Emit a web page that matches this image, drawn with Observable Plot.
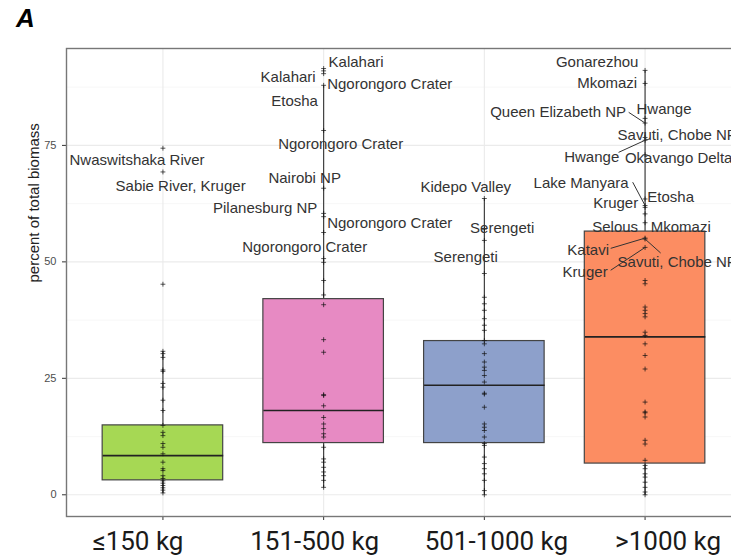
<!DOCTYPE html>
<html>
<head>
<meta charset="utf-8">
<script src="https://cdn.jsdelivr.net/npm/d3@7"></script>
<script src="https://cdn.jsdelivr.net/npm/@observablehq/plot@0.6"></script>
<style>
  html, body { margin: 0; padding: 0; background: #fff; }
  #wrap { position: relative; width: 731px; height: 555px; overflow: hidden; }
  #panelTag { position: absolute; left: 16px; top: 3px; font: italic bold 26px "Liberation Sans", Arial, sans-serif; color: #000; }
</style>
</head>
<body>
<div id="wrap"><div id="panelTag">A</div></div>
<script>
// ---- Data ----
const categories = ["≤150 kg", "151-500 kg", "501-1000 kg", ">1000 kg"];
const boxColors = ["#a6d854", "#e78ac3", "#8da0cb", "#fc8d62"];

// box statistics per category
const q1 = [3.1, 11.1, 11.1, 6.7];
const median = [8.4, 18.1, 23.5, 33.9];
const q3 = [14.9, 42.0, 33.0, 56.5];
const whiskerLow = [0.4, 1.6, 0.0, 0.0];
const whiskerHigh = [30.8, 87.9, 63.6, 91.1];

// unlabeled site values per category (percent of total biomass)
const g1Values = [45.2, 30.8, 30.3, 29.5, 26.8, 26.5, 23.9, 23.1, 20.3, 18.1, 14.9, 13.4, 12.7, 11.0, 10.2, 8.8, 7.0, 5.6, 5.2, 4.1, 3.5, 3.0, 2.5, 2.0, 1.5, 1.0, 0.4];
const g2Values = [50.7, 49.9, 46.0, 42.9, 40.8, 33.3, 30.6, 21.5, 21.3, 19.1, 16.6, 15.2, 14.2, 13.1, 12.4, 10.2, 7.7, 7.0, 5.9, 4.9, 4.1, 3.1, 1.6];
const g3Values = [47.5, 42.4, 41.0, 39.6, 37.8, 36.4, 35.3, 33.1, 32.4, 30.3, 28.5, 27.4, 26.7, 25.6, 24.2, 21.8, 21.6, 18.8, 15.2, 14.5, 13.8, 12.4, 11.0, 10.6, 8.1, 6.7, 5.6, 4.5, 3.1, 0.9, 0.0];
const g4Values = [46.0, 45.3, 40.3, 39.6, 38.9, 38.2, 34.9, 34.2, 32.4, 29.9, 27.0, 19.9, 17.8, 17.6, 16.7, 11.7, 10.9, 7.4, 6.3, 5.6, 4.5, 3.8, 2.7, 1.6, 0.6, 0.0];

// labeled sites
const siteNames = ["Nwaswitshaka River", "Sabie River, Kruger",
  "Kalahari", "Kalahari", "Ngorongoro Crater", "Etosha", "Ngorongoro Crater", "Nairobi NP", "Pilanesburg NP", "Ngorongoro Crater", "Ngorongoro Crater",
  "Kidepo Valley", "Serengeti", "Serengeti",
  "Gonarezhou", "Mkomazi", "Queen Elizabeth NP", "Hwange", "Savuti, Chobe NP", "Hwange", "Okavango Delta", "Lake Manyara", "Etosha", "Kruger", "Selous", "Mkomazi", "Katavi", "Savuti, Chobe NP", "Kruger"];
const siteGroups = [1, 1, 2, 2, 2, 2, 2, 2, 2, 2, 2, 3, 3, 3, 4, 4, 4, 4, 4, 4, 4, 4, 4, 4, 4, 4, 4, 4, 4];
const siteValues = [74.4, 69.3, 91.5, 91.0, 90.4, 87.9, 78.2, 65.8, 60.4, 59.7, 56.3, 63.6, 57.0, 54.6,
  91.1, 88.3, 79.8, 80.8, 76.7, 76.1, 73.0, 62.1, 63.5, 61.7, 60.3, 58.4, 55.1, 54.9, 53.1];

// repelled label placement (data units: category axis, percent axis)
const labelX = [0.839, 1.110, 2.202, 1.779, 2.411, 1.819, 2.106, 1.882, 1.636, 2.411, 1.882, 2.884, 3.111, 2.884,
  3.702, 3.764, 3.459, 4.118, 4.200, 3.668, 4.209, 3.602, 4.159, 3.817, 3.814, 4.222, 3.646, 4.200, 3.627];
const labelY = [71.8, 66.2, 92.8, 89.6, 88.1, 84.4, 75.2, 67.9, 61.5, 58.3, 53.2, 66.0, 57.2, 50.9,
  92.8, 88.3, 82.1, 82.7, 77.2, 72.4, 72.2, 66.9, 63.9, 62.6, 57.4, 57.4, 52.5, 50.0, 47.8];
// connector segment ends (null = no segment drawn)
const segX = [null, null, null, null, null, null, null, null, null, null, null, null, null, null,
  null, null, 3.898, null, null, 3.835, null, 3.923, null, null, null, null, 3.786, 4.097, 3.786];
const segY = [null, null, null, null, null, null, null, null, null, null, null, null, null, null,
  null, null, 82.1, null, null, 73.5, null, 67.1, null, null, null, null, 52.9, 51.9, 48.2];

const yMajor = [0, 25, 50, 75];
const yMinor = [12.5, 37.5, 62.5, 87.5];
const xLabelShift = [-25, -9, 12, 23];

// ---- Build tables ----
const groups = categories.map((c, i) => ({
  g: i + 1, cat: c, fill: boxColors[i],
  q1: q1[i], med: median[i], q3: q3[i], lo: whiskerLow[i], hi: whiskerHigh[i]
}));
const sites = siteNames.map((n, i) => ({
  name: n, g: siteGroups[i], v: siteValues[i], lx: labelX[i], ly: labelY[i], sx: segX[i], sy: segY[i]
}));
const points = [
  ...[g1Values, g2Values, g3Values, g4Values].flatMap((arr, i) => arr.map(v => ({g: i + 1, v}))),
  ...sites.map(s => ({g: s.g, v: s.v}))
];
const segs = sites.filter(s => s.sx != null);
const halfBox = 0.375;
const LAB_FONT = "'Liberation Sans', Arial, sans-serif";

const labelMarks = categories.map((c, i) =>
  Plot.text([c], {
    x: i + 1, text: d => d, frameAnchor: "bottom", lineAnchor: "top",
    dy: 15, dx: xLabelShift[i], fontSize: 26, fontFamily: "Roboto", fill: "#1a1a1a"
  })
);

const chart = Plot.plot({
  width: 731, height: 555,
  marginTop: 48, marginBottom: 39, marginLeft: 66, marginRight: -10,
  style: {fontFamily: LAB_FONT, background: "white"},
  x: {type: "linear", domain: [0.4, 4.6], axis: null},
  y: {domain: [-4.66, 95.8], axis: null},
  marks: [
    Plot.gridY(yMinor, {stroke: "#f3f3f3", strokeOpacity: 1, strokeWidth: 0.7}),
    Plot.gridY(yMajor, {stroke: "#ebebeb", strokeOpacity: 1, strokeWidth: 1.1}),
    Plot.gridX(groups.map(d => d.g), {stroke: "#ebebeb", strokeOpacity: 1, strokeWidth: 1.1}),
    Plot.axisY(yMajor, {tickSize: 4, tickPadding: 6, fontSize: 11, fontFamily: LAB_FONT, fill: "#4d4d4d", stroke: "#333", label: null}),
    Plot.axisX(groups.map(d => d.g), {tickSize: 4, tickFormat: () => "", stroke: "#333", label: null}),
    // whiskers
    Plot.link(groups, {x1: "g", x2: "g", y1: "lo", y2: "q1", stroke: "#333", strokeWidth: 1.1}),
    Plot.link(groups, {x1: "g", x2: "g", y1: "q3", y2: "hi", stroke: "#333", strokeWidth: 1.1}),
    // boxes
    Plot.rect(groups, {x1: d => d.g - halfBox, x2: d => d.g + halfBox, y1: "q1", y2: "q3", fill: "fill", stroke: "#444", strokeWidth: 1.2}),
    Plot.link(groups, {x1: d => d.g - halfBox, x2: d => d.g + halfBox, y1: "med", y2: "med", stroke: "#222", strokeWidth: 1.6}),
    // points
    Plot.dot(points, {x: "g", y: "v", symbol: "plus", r: 1.7, stroke: "#111", strokeOpacity: 0.7, strokeWidth: 1}),
    // connectors and labels
    Plot.link(segs, {x1: "g", y1: "v", x2: "sx", y2: "sy", stroke: "#333", strokeWidth: 1}),
    Plot.text(sites, {x: "lx", y: "ly", text: "name", fontSize: 15, fontFamily: LAB_FONT, fill: "#333", textAnchor: "middle", lineAnchor: "middle"}),
    // axis title
    Plot.text(["percent of total biomass"], {frameAnchor: "left", rotate: -90, dx: -32, fontSize: 15, fontFamily: LAB_FONT, fill: "#222", text: d => d}),
    ...labelMarks,
    Plot.frame({stroke: "#777", strokeWidth: 1.4})
  ]
});
document.getElementById("wrap").appendChild(chart);
</script>
</body>
</html>
